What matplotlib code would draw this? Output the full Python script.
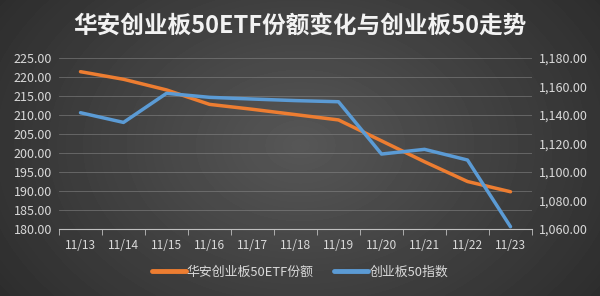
import matplotlib
matplotlib.use("Agg")
import matplotlib.pyplot as plt
import numpy as np

# data
dates = ["11/13", "11/14", "11/15", "11/16", "11/17", "11/18",
         "11/19", "11/20", "11/21", "11/22", "11/23"]
etf_shares = [221.4, 219.4, 216.6, 212.8, 211.5, 210.1,
              208.7, 203.2, 197.7, 192.5, 189.8]
index_vals = [1141.6, 1134.8, 1155.2, 1152.4, 1151.2, 1150.1,
              1149.3, 1112.6, 1115.9, 1108.4, 1061.6]

title = "华安创业板50ETF份额变化与创业板50走势"
label_etf = "华安创业板50ETF份额"
label_idx = "创业板50指数"

plt.rcParams['font.family'] = ['Noto Sans CJK SC', 'DejaVu Sans']

orange = "#ED7D31"
blue = "#5B9BD5"
txt = "#D9D9D9"

fig = plt.figure(figsize=(6, 2.96), dpi=100)

# radial dark gradient background
bg = fig.add_axes([0, 0, 1, 1])
yy, xx = np.mgrid[0:296, 0:600]
r = np.sqrt(((xx - 300) / 400.0) ** 2 + ((yy - 145) / 290.0) ** 2)
shade = np.clip(0.34 - 0.18 * r, 0.14, 0.4)
bg.imshow(shade, cmap="gray", vmin=0, vmax=1, aspect="auto", extent=[0, 1, 0, 1])
bg.axis("off")

ax = fig.add_axes([59 / 600, (296 - 229) / 296, (532 - 59) / 600, (229 - 58) / 296])
ax.patch.set_alpha(0)
x = np.arange(len(dates))
ln1, = ax.plot(x, etf_shares, color=orange, lw=2.5, solid_capstyle="round", zorder=3)
ax.set_ylim(180, 225)
ax.set_yticks(np.arange(180, 226, 5))
ax.set_yticklabels([f"{v:.2f}" for v in np.arange(180, 226, 5)])
ax.set_xlim(-0.5, len(dates) - 0.5)
ax.set_xticks(x)
ax.set_xticklabels(dates)
ax.set_xticks(np.arange(-0.5, len(dates)), minor=True)
ax.tick_params(axis="x", which="major", length=0, pad=7, labelsize=8.6, labelcolor=txt)
ax.tick_params(axis="x", which="minor", length=4, color="#BFBFBF", direction="out")
ax.tick_params(axis="y", length=0, pad=5, labelsize=9, labelcolor=txt)
ax.grid(axis="y", color="#8C8C8C", lw=0.6, alpha=0.6)
for s in ["top", "left", "right"]:
    ax.spines[s].set_visible(False)
ax.spines["bottom"].set_color("#BFBFBF")
ax.spines["bottom"].set_linewidth(0.8)

ax2 = ax.twinx()
ln2, = ax2.plot(x, index_vals, color=blue, lw=2.5, solid_capstyle="round", zorder=3)
ax2.set_ylim(1060, 1180)
ax2.set_yticks(np.arange(1060, 1181, 20))
ax2.set_yticklabels([f"{v:,.2f}" for v in np.arange(1060, 1181, 20)])
ax2.tick_params(axis="y", length=0, pad=5, labelsize=9, labelcolor=txt)
for s in ax2.spines.values():
    s.set_visible(False)

fig.text(0.5, 0.915, title, ha="center", va="center", color="#F2F2F2",
         fontsize=17, fontweight="bold")

leg = fig.legend([ln1, ln2], [label_etf, label_idx], loc="center", bbox_to_anchor=(0.5, 0.08),
                 ncol=2, frameon=False, fontsize=9.3, labelcolor=txt, handlelength=2.6,
                 handletextpad=0.1, columnspacing=1.6)
for h in leg.get_lines():
    h.set_linewidth(3.5)

fig.savefig("out.png", dpi=100)
